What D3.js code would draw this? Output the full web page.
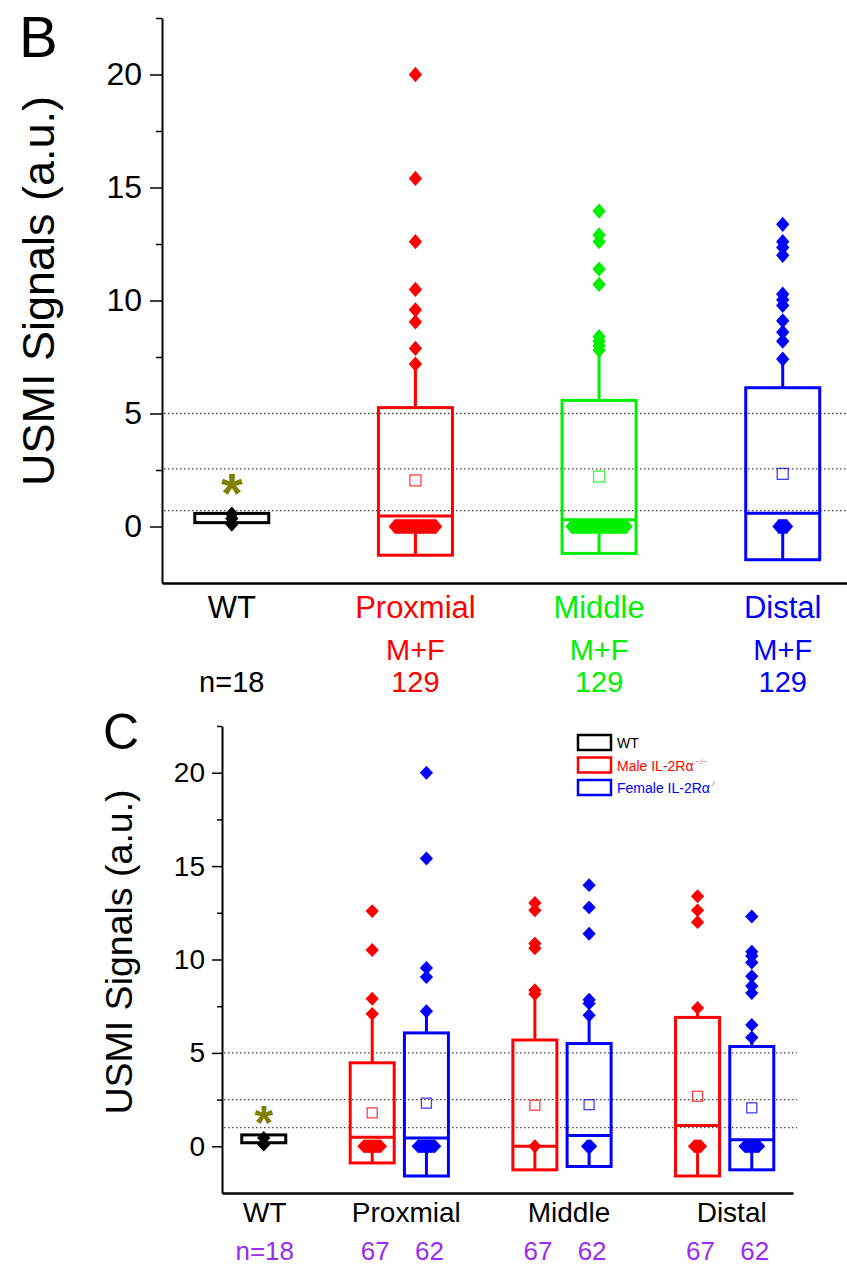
<!DOCTYPE html>
<html>
<head>
<meta charset="utf-8">
<script src="https://cdn.jsdelivr.net/npm/d3@7"></script>
<style>
body { margin: 0; background: #fff; }
svg { display: block; }
</style>
</head>
<body>
<svg id="chart" width="847" height="1266"></svg>
<script>
// shared y axis
let yDomain = [-2.5, 22.5];
let yMajorTicks = [0, 5, 10, 15, 20];
let yMinorTicks = [2.5, 7.5, 12.5, 17.5, 22.5];

// panel B: sexes pooled
let groupsB = ["WT", "Proxmial", "Middle", "Distal"];
let subLabelsB = ["", "M+F", "M+F", "M+F"];
let countsB = ["n=18", "129", "129", "129"];
let boxLowB = [0.17, -1.27, -1.19, -1.47];
let boxHighB = [0.58, 5.26, 5.58, 6.14];
let medianB = [null, 0.47, 0.30, 0.59];
let meanB = [null, 2.04, 2.21, 2.33];
let whiskerLowB = [null, 0, 0, 0];
let whiskerHighB = [null, 7.19, 7.8, 7.41];
let pointsB = [
    [0.1, 0.35, 0.55],
    [20.0, 15.4, 12.6, 10.49, 9.59, 9.05, 7.88, 7.19],
    [13.96, 12.9, 12.6, 11.39, 10.71, 8.4, 8.2, 8.0, 7.8],
    [13.37, 12.6, 12.35, 12.0, 10.28, 10.03, 9.78, 9.1, 8.6, 8.2, 7.41]
];
let zeroCountB = [0, 28, 37, 6];
let refLinesB = [0.7, 2.55, 5];
let starB = 2.05;

// panel C: male / female split
let groupsC = ["WT", "Proxmial", "Middle", "Distal"];
let seriesC = ["WT", "Male IL-2R\u03b1", "Female IL-2R\u03b1"];
let seriesSupC = ["", "\u2212/\u2212", "/"];
let countsC = [["n=18"], ["67", "62"], ["67", "62"], ["67", "62"]];
let boxGroupC = [0, 1, 1, 2, 2, 3, 3];
let boxSeriesC = [0, 1, 2, 1, 2, 1, 2];
let boxLowC = [0.19, -0.89, -1.59, -1.26, -1.08, -1.59, -1.26];
let boxHighC = [0.61, 4.47, 6.07, 5.69, 5.5, 6.9, 5.34];
let medianC = [null, 0.48, 0.44, 0.0, 0.58, 1.12, 0.35];
let meanC = [null, 1.79, 2.31, 2.2, 2.23, 2.68, 2.06];
let whiskerLowC = [null, 0, 0, 0, 0, 0, 0];
let whiskerHighC = [null, 7.09, 7.23, 8.25, 7.02, 7.41, 5.82];
let pointsC = [
    [0.1, 0.45],
    [12.59, 10.51, 7.9, 7.09],
    [20.0, 15.41, 9.55, 9.06, 7.23],
    [13.02, 12.63, 10.85, 10.6, 8.35, 8.15],
    [13.98, 12.79, 11.38, 7.85, 7.65, 7.02],
    [13.39, 12.63, 12.0, 7.41],
    [12.3, 10.42, 10.19, 9.84, 9.1, 8.58, 8.2, 6.5, 5.82]
];
let zeroCountC = [0, 12, 12, 1, 3, 5, 10];
let refLinesC = [1.0, 2.5, 5];
let starC = 1.87;

// styles
let colorsB = ["#000000", "#ff0000", "#00f000", "#0000ff"];
let colorsC = ["#000000", "#ff0000", "#0000ff"];
let countColorC = "#9a2cf5";
let starColor = "#808000";
let font = "Arial, 'Liberation Sans', sans-serif";

let svg = d3.select("#chart");
let diamond = d3.symbol().type(d3.symbolSquare).size(88);

function addText(parent, x, y, str, size, color, anchor) {
    return parent.append("text")
        .attr("x", x)
        .attr("y", y)
        .attr("font-family", font)
        .attr("font-size", size)
        .attr("fill", color)
        .attr("text-anchor", anchor || "middle")
        .text(str);
}

function drawAxes(g, x, y, fontSize, majorLen, pad) {
    let axisX = x.range()[0];
    g.append("g")
        .attr("transform", `translate(${axisX},0)`)
        .call(d3.axisLeft(y).tickValues(yMinorTicks).tickSize(majorLen / 2).tickFormat(""))
        .call(a => a.select(".domain").remove())
        .call(a => a.selectAll(".tick line").attr("stroke-width", 1.5));
    g.append("g")
        .attr("transform", `translate(${axisX},0)`)
        .call(d3.axisLeft(y).tickValues(yMajorTicks).tickSize(majorLen).tickSizeOuter(0).tickPadding(pad))
        .call(a => a.select(".domain").attr("stroke-width", 2))
        .call(a => a.selectAll(".tick line").attr("stroke-width", 1.5))
        .call(a => a.selectAll(".tick text")
            .attr("font-size", fontSize)
            .attr("font-family", font)
            .attr("fill", "#000"));
    g.append("g")
        .attr("transform", `translate(0,${y.range()[0]})`)
        .call(d3.axisBottom(x).tickValues([]).tickSizeOuter(0))
        .call(a => a.select(".domain").attr("stroke-width", 2.5));
}

function drawRefLines(g, y, values, x0, x1) {
    g.selectAll(".ref")
        .data(values)
        .enter().append("line")
        .attr("class", "ref")
        .attr("x1", x0)
        .attr("x2", x1)
        .attr("y1", d => y(d))
        .attr("y2", d => y(d))
        .attr("stroke", "#444")
        .attr("stroke-width", 1.3)
        .attr("stroke-dasharray", "1.5,2.5");
}

function drawBox(g, cx, w, y, b, color, meanSize, stretch) {
    let box = g.append("g");
    if (b.wHigh != null) {
        box.append("line")
            .attr("x1", cx).attr("x2", cx)
            .attr("y1", y(b.high)).attr("y2", y(b.wHigh))
            .attr("stroke", color).attr("stroke-width", 3);
        box.append("line")
            .attr("x1", cx).attr("x2", cx)
            .attr("y1", y(b.low)).attr("y2", y(b.wLow))
            .attr("stroke", color).attr("stroke-width", 3);
    }
    box.append("rect")
        .attr("x", cx - w / 2)
        .attr("y", y(b.high))
        .attr("width", w)
        .attr("height", y(b.low) - y(b.high))
        .attr("fill", "none")
        .attr("stroke", color)
        .attr("stroke-width", 3);
    if (b.median != null) {
        box.append("line")
            .attr("x1", cx - w / 2).attr("x2", cx + w / 2)
            .attr("y1", y(b.median)).attr("y2", y(b.median))
            .attr("stroke", color).attr("stroke-width", 3);
    }
    // zeros are spread sideways, like the original overlay
    let zeros = d3.range(b.zeros).map(i => ({v: 0, dx: (i - (b.zeros - 1) / 2) * 1.5}));
    let pts = b.points.map(v => ({v, dx: 0})).concat(zeros);
    box.selectAll("path.pt")
        .data(pts)
        .enter().append("path")
        .attr("class", "pt")
        .attr("d", diamond)
        .attr("transform", d => `translate(${cx + d.dx},${y(d.v)}) scale(1,${stretch}) rotate(45)`)
        .attr("fill", color);
    if (b.mean != null) {
        box.append("rect")
            .attr("x", cx - meanSize / 2)
            .attr("y", y(b.mean) - meanSize / 2)
            .attr("width", meanSize)
            .attr("height", meanSize)
            .attr("fill", "none")
            .attr("stroke", color)
            .attr("stroke-opacity", 0.75)
            .attr("stroke-width", 1.3);
    }
}

function drawStar(g, cx, y, v, size) {
    addText(g, cx, y(v) + size * 0.57, "*", size, starColor)
        .attr("font-weight", "bold");
}

// ---------- panel B ----------
let gB = svg.append("g");
let xB = d3.scaleLinear().domain([-0.38, 3.35]).range([162, 847]);
let yB = d3.scaleLinear().domain(yDomain).range([583, 18]);

drawRefLines(gB, yB, refLinesB, 164, 847);
drawAxes(gB, xB, yB, 32, 12, 8);

groupsB.forEach((name, i) => {
    let b = {
        low: boxLowB[i], high: boxHighB[i], median: medianB[i], mean: meanB[i],
        wLow: whiskerLowB[i], wHigh: whiskerHighB[i], points: pointsB[i], zeros: zeroCountB[i]
    };
    drawBox(gB, xB(i), 74, yB, b, colorsB[i], 11, 1.15);
    addText(gB, xB(i), 618, name, 31, colorsB[i]);
    addText(gB, xB(i), 660, subLabelsB[i], 29, colorsB[i]);
    addText(gB, xB(i), 692, countsB[i], 29, colorsB[i]);
});
drawStar(gB, xB(0), yB, starB, 56);

addText(gB, 0, 0, "USMI Signals (a.u.)", 45, "#000")
    .attr("x", null).attr("y", null)
    .attr("transform", "translate(54,291) rotate(-90)");
addText(gB, 19, 57, "B", 58, "#000", "start");

// ---------- panel C ----------
let gC = svg.append("g");
let xC = d3.scaleLinear().domain([-0.77, 9.76]).range([222, 793]);
let yC = d3.scaleLinear().domain(yDomain).range([1193, 726]);
let slotC = (g, s) => s === 0 ? 0 : 3 * g - 1 + (s - 1);

drawRefLines(gC, yC, refLinesC, 224, 797);
drawAxes(gC, xC, yC, 28, 10, 7);

boxGroupC.forEach((grp, i) => {
    let s = boxSeriesC[i];
    let b = {
        low: boxLowC[i], high: boxHighC[i], median: medianC[i], mean: meanC[i],
        wLow: whiskerLowC[i], wHigh: whiskerHighC[i], points: pointsC[i], zeros: zeroCountC[i]
    };
    drawBox(gC, xC(slotC(grp, s)), 44, yC, b, colorsC[s], 10, 1.05);
});
drawStar(gC, xC(0), yC, starC, 48);

groupsC.forEach((name, g) => {
    let slots = g === 0 ? [0] : [slotC(g, 1), slotC(g, 2)];
    let cx = d3.mean(slots.map(xC));
    addText(gC, cx + (g === 0 ? 1 : 7), 1222, name, 28, "#000");
    countsC[g].forEach((c, k) => {
        addText(gC, xC(slots[k]) + (g === 0 ? 1 : 3), 1260, c, 26, countColorC);
    });
});

addText(gC, 0, 0, "USMI Signals (a.u.)", 37.5, "#000")
    .attr("x", null).attr("y", null)
    .attr("transform", "translate(132,952) rotate(-90)");
addText(gC, 103, 749, "C", 50, "#000", "start");

// legend
let legend = gC.append("g");
seriesC.forEach((name, i) => {
    let top = 735 + i * 22.5;
    legend.append("rect")
        .attr("x", 578).attr("y", top)
        .attr("width", 33).attr("height", 15)
        .attr("fill", "none")
        .attr("stroke", colorsC[i])
        .attr("stroke-width", 2.5);
    let t = addText(legend, 617, top + 13, name, 14, colorsC[i], "start");
    if (seriesSupC[i]) {
        t.append("tspan")
            .attr("dy", -7)
            .attr("font-size", 8)
            .attr("fill-opacity", 0.7)
            .text(" " + seriesSupC[i]);
    }
});
</script>
</body>
</html>
